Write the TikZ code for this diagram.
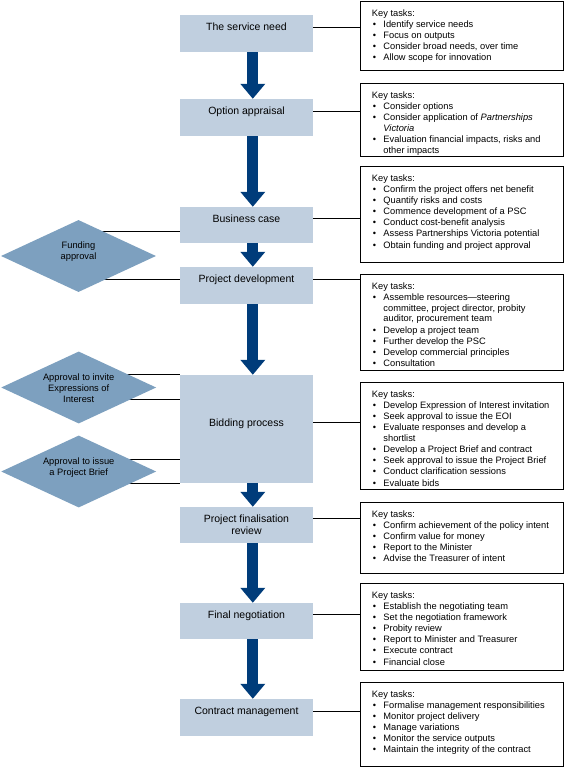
\documentclass[tikz,border=0pt]{standalone}
\usepackage{fontspec}
\setmainfont{Liberation Sans}
\usetikzlibrary{shapes.geometric,arrows.meta,backgrounds}
\definecolor{stagefill}{RGB}{192,207,223}
\definecolor{dfill}{RGB}{125,160,191}
\definecolor{arrowblue}{RGB}{0,60,122}
\newcommand{\tbox}[2]{\parbox[c][#1pt][t]{203pt}{\fontsize{9.3}{10.8}\selectfont\leftskip=11.5pt\rightskip=0pt plus 1fil\parindent=0pt\parskip=0.35pt\vspace*{6.8pt}\strut Key tasks:#2\par}}
\newcommand{\ti}[1]{\par\hangindent=11.5pt\hangafter=1\noindent\makebox[11.5pt][l]{\hspace{0.8pt}\textbullet}#1}
\tikzset{
  stage/.style={fill=stagefill, minimum width=133pt, inner sep=0pt, font=\fontsize{10.5}{12}\selectfont},
  oneline/.style={text height=7.6pt, text depth=13pt},
  taskbox/.style={draw, line width=0.9pt, inner sep=0pt, anchor=north west},
  dmd/.style={diamond, aspect=2.15, fill=dfill, minimum width=155pt, minimum height=72pt, inner sep=0pt},
  dtext/.style={align=center, inner sep=0pt, font=\fontsize{9.3}{11}\selectfont},
  bigarrow/.style={color=arrowblue, line width=11.3pt, -{Triangle[width=24pt,length=15pt]}},
  conn/.style={draw, line width=0.8pt},
}
\begin{document}
\begin{tikzpicture}[x=1pt,y=-1pt]
\useasboundingbox (0,0) rectangle (565,767);
% stages
\node[stage, oneline, minimum height=37pt] (s1) at (246.5,33.5) {The service need};
\node[stage, oneline, minimum height=37pt] (s2) at (246.5,117.5) {Option appraisal};
\node[stage, oneline, minimum height=36pt] (s3) at (246.5,225) {Business case};
\node[stage, oneline, minimum height=37pt] (s4) at (246.5,285.5) {Project development};
\node[stage, oneline, minimum height=108pt] (s5) at (246.5,429) {Bidding process};
\node[stage, align=center, minimum height=36pt] (s6) at (246.5,525) {Project finalisation\\review};
\node[stage, oneline, minimum height=36pt] (s7) at (246.5,621) {Final negotiation};
\node[stage, oneline, minimum height=37pt] (s8) at (246.5,717.5) {Contract management};
% task boxes
\node[taskbox] (t1) at (360,1) {\tbox{69}{\ti{Identify service needs}\ti{Focus on outputs}\ti{Consider broad needs, over time}\ti{Allow scope for innovation}}};
\node[taskbox] (t2) at (360,83) {\tbox{73}{\ti{Consider options}\ti{Consider application of \textit{Partnerships}\newline\textit{Victoria}}\ti{Evaluation financial impacts, risks and\newline other impacts}}};
\node[taskbox] (t3) at (360,166) {\tbox{96}{\ti{Confirm the project offers net benefit}\ti{Quantify risks and costs}\ti{Commence development of a PSC}\ti{Conduct cost-benefit analysis}\ti{Assess Partnerships Victoria potential}\ti{Obtain funding and project approval}}};
\node[taskbox] (t4) at (360,274) {\tbox{96}{\ti{Assemble resources—steering\newline committee, project director, probity\newline auditor, procurement team}\ti{Develop a project team}\ti{Further develop the PSC}\ti{Develop commercial principles}\ti{Consultation}}};
\node[taskbox] (t5) at (360,382) {\tbox{107}{\ti{Develop Expression of Interest invitation}\ti{Seek approval to issue the EOI}\ti{Evaluate responses and develop a\newline shortlist}\ti{Develop a Project Brief and contract}\ti{Seek approval to issue the Project Brief}\ti{Conduct clarification sessions}\ti{Evaluate bids}}};
\node[taskbox] (t6) at (360,502) {\tbox{71}{\ti{Confirm achievement of the policy intent}\ti{Confirm value for money}\ti{Report to the Minister}\ti{Advise the Treasurer of intent}}};
\node[taskbox] (t7) at (360,583) {\tbox{87}{\ti{Establish the negotiating team}\ti{Set the negotiation framework}\ti{Probity review}\ti{Report to Minister and Treasurer}\ti{Execute contract}\ti{Financial close}}};
\node[taskbox] (t8) at (360,682) {\tbox{84}{\ti{Formalise management responsibilities}\ti{Monitor project delivery}\ti{Manage variations}\ti{Monitor the service outputs}\ti{Maintain the integrity of the contract}}};
% diamonds
\node[dmd] (d1) at (78.5,256) {};
\node[dtext] (d1t) at ([yshift=4.5pt]d1.center) {Funding\\approval};
\node[dmd] (d2) at (78.7,387.5) {};
\node[dtext] (d2t) at ([yshift=-1pt]d2.center) {Approval to invite\\Expressions of\\Interest};
\node[dmd] (d3) at (78.7,471.5) {};
\node[dtext] (d3t) at ([yshift=4.3pt]d3.center) {Approval to issue\\a Project Brief};
% stage-to-task connectors
\foreach \i in {1,...,8}{
  \coordinate (c\i) at ([yshift=6.3pt]s\i.east);
  \draw[conn] (c\i) -- (c\i -| t\i.west);
}
% flow arrows
\foreach \a/\b in {1/2,2/3,3/4,4/5,5/6,6/7,7/8}{
  \draw[bigarrow] ([xshift=6.3pt]s\a.south) -- ([xshift=6.3pt]s\b.north);
}
% approval connectors behind diamonds
\begin{scope}[on background layer]
  \coordinate (f1) at ([yshift=-6pt]s3.west);
  \coordinate (f2) at ([yshift=6.5pt]s4.west);
  \coordinate (f3) at (s5.north west);
  \coordinate (f4) at ([yshift=30pt]s5.west);
  \coordinate (f5) at ([yshift=-30pt]s5.west);
  \coordinate (f6) at (s5.south west);
  \draw[conn] (f1) -- (f1 -| d1.center);
  \draw[conn] (f2) -- (f2 -| d1.center);
  \draw[conn] (f3) -- (f3 -| d2.center);
  \draw[conn] (f4) -- (f4 -| d2.center);
  \draw[conn] (f5) -- (f5 -| d3.center);
  \draw[conn] (f6) -- (f6 -| d3.center);
\end{scope}
\end{tikzpicture}
\end{document}
